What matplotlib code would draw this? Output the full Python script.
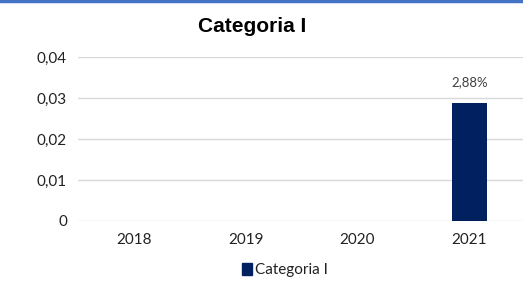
import matplotlib.pyplot as plt
from matplotlib.lines import Line2D
from matplotlib.patches import Patch

# Data
years = ["2018", "2019", "2020", "2021"]
values = [0, 0, 0, 0.0288]
value_labels = ["", "", "", "2,88%"]
y_ticks = [0, 0.01, 0.02, 0.03, 0.04]
y_tick_labels = ["0", "0,01", "0,02", "0,03", "0,04"]
series_name = "Categoria I"

bar_color = "#002060"
grid_color = "#d9d9d9"
text_color = "#404040"
body_font = ["Lato", "DejaVu Sans"]

fig = plt.figure(figsize=(5.23, 2.89), dpi=100)
ax = fig.add_axes([78 / 523, 68 / 289, 445 / 523, 164 / 289])

x = range(len(years))
bars = ax.bar(x, values, width=0.31, color=bar_color, zorder=3)

for rect, lab in zip(bars, value_labels):
    if lab:
        ax.text(rect.get_x() + rect.get_width() / 2, rect.get_height() + 0.0035,
                lab, ha="center", va="bottom", fontsize=9.5,
                color=text_color, family=body_font)

ax.set_xlim(-0.5, 3.48)
ax.set_ylim(0, 0.04)
ax.set_yticks(y_ticks)
ax.set_yticklabels(y_tick_labels, family=body_font, fontsize=11, color="#222222")
ax.set_xticks(list(x))
ax.set_xticklabels(years, family=body_font, fontsize=11, color="#222222")
ax.tick_params(length=0)
ax.tick_params(axis="y", pad=8)
ax.tick_params(axis="x", pad=9)
ax.grid(axis="y", color=grid_color, linewidth=1, zorder=0)
for s in ax.spines.values():
    s.set_visible(False)

fig.text(252 / 523, 1 - 27 / 289, "Categoria I", ha="center", va="center",
         fontsize=15, fontweight="bold", family="Liberation Sans")

fig.legend(handles=[Patch(color=bar_color, label=series_name)],
           loc="center", bbox_to_anchor=(0.545, 1 - 270 / 289), frameon=False,
           prop={"family": body_font, "size": 11}, handlelength=0.7,
           handleheight=0.9, handletextpad=0.2, labelcolor="#222222")

# blue frame line at the top
fig.add_artist(Line2D([0, 1], [0.996, 0.996], color="#4472C4", linewidth=2.5,
                      transform=fig.transFigure))

fig.savefig("out.png", dpi=100)
